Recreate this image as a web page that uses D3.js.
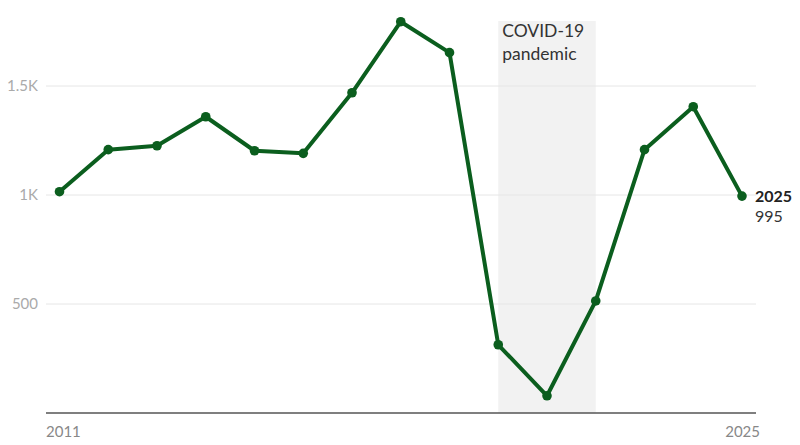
<!DOCTYPE html>
<html>
<head>
<meta charset="utf-8">
<script src="https://cdn.jsdelivr.net/npm/d3@7"></script>
<style>
  body { margin: 0; background: #fff; }
  svg { display: block; font-family: Lato, "Open Sans", sans-serif; }
</style>
</head>
<body>
<div id="chart"></div>
<script>
/* Chart data. */
const years = [2011, 2012, 2013, 2014, 2015, 2016, 2017, 2018, 2019, 2020, 2021, 2022, 2023, 2024, 2025]
const values = [1015, 1208, 1226, 1359, 1203, 1191, 1469, 1795, 1653, 313, 79, 514, 1208, 1405, 995]
const yTicks = [500, 1000, 1500]
const yTickLabels = ["500", "1K", "1.5K"]
const covidSpan = [2020, 2022]
const covidLabel = ["COVID-19", "pandemic"]

/* Size. */
const width = 800
const height = 445
const plotLeft = 46
const plotRight = 756
const plotTop = 21
const plotBottom = 413

/* Scales. */
const x = d3.scaleLinear()
  .domain([2011, 2025])
  .range([59.5, 742])

const y = d3.scaleLinear()
  .domain([0, 1800])
  .range([plotBottom, plotBottom - 1800 * 0.218])

const svg = d3.select("#chart")
  .append("svg")
  .attr("width", width)
  .attr("height", height)

/* Covid band. */
svg.append("rect")
  .attr("x", x(covidSpan[0]))
  .attr("y", plotTop)
  .attr("width", x(covidSpan[1]) - x(covidSpan[0]))
  .attr("height", plotBottom - plotTop)
  .attr("fill", "#f2f2f2")

svg.append("text")
  .attr("x", x(covidSpan[0]) + 4)
  .attr("y", 36.5)
  .attr("font-size", 17.5)
  .attr("fill", "#333")
  .selectAll("tspan")
  .data(covidLabel)
  .enter()
  .append("tspan")
  .attr("x", x(covidSpan[0]) + 4)
  .attr("dy", (d, i) => i === 0 ? 0 : 23.5)
  .text(d => d)

/* Gridlines and y labels. */
const grid = svg.append("g")
grid.selectAll("line")
  .data(yTicks)
  .enter()
  .append("line")
  .attr("x1", plotLeft)
  .attr("x2", plotRight)
  .attr("y1", d => y(d))
  .attr("y2", d => y(d))
  .attr("stroke", "#e6e6e6")
  .attr("stroke-width", 1)

grid.selectAll("text")
  .data(yTicks)
  .enter()
  .append("text")
  .attr("x", 38)
  .attr("y", d => y(d) + 5)
  .attr("text-anchor", "end")
  .attr("font-size", 15)
  .attr("fill", "#aaa")
  .text((d, i) => yTickLabels[i])

/* Baseline. */
svg.append("line")
  .attr("x1", plotLeft)
  .attr("x2", plotRight)
  .attr("y1", y(0))
  .attr("y2", y(0))
  .attr("stroke", "#555")
  .attr("stroke-width", 1.3)

/* X labels. */
svg.append("text")
  .attr("x", plotLeft)
  .attr("y", 437)
  .attr("font-size", 15)
  .attr("fill", "#888")
  .text(years[0])

svg.append("text")
  .attr("x", plotRight + 4)
  .attr("y", 437)
  .attr("text-anchor", "end")
  .attr("font-size", 15)
  .attr("fill", "#888")
  .text(years[years.length - 1])

/* Line and dots. */
const data = years.map((yr, i) => ({ year: yr, value: values[i] }))
const green = "#0b5e1e"

const line = d3.line()
  .x(d => x(d.year))
  .y(d => y(d.value))

svg.append("path")
  .datum(data)
  .attr("d", line)
  .attr("fill", "none")
  .attr("stroke", green)
  .attr("stroke-width", 4)
  .attr("stroke-linejoin", "round")

svg.selectAll("circle")
  .data(data)
  .enter()
  .append("circle")
  .attr("cx", d => x(d.year))
  .attr("cy", d => y(d.value))
  .attr("r", 4.8)
  .attr("fill", green)

/* End label. */
const last = data[data.length - 1]
svg.append("text")
  .attr("x", 755)
  .attr("y", y(last.value) + 6)
  .attr("font-size", 16)
  .attr("font-weight", "bold")
  .attr("fill", "#222")
  .text(last.year)

svg.append("text")
  .attr("x", 755)
  .attr("y", y(last.value) + 26)
  .attr("font-size", 16)
  .attr("fill", "#333")
  .text(last.value)
</script>
</body>
</html>
